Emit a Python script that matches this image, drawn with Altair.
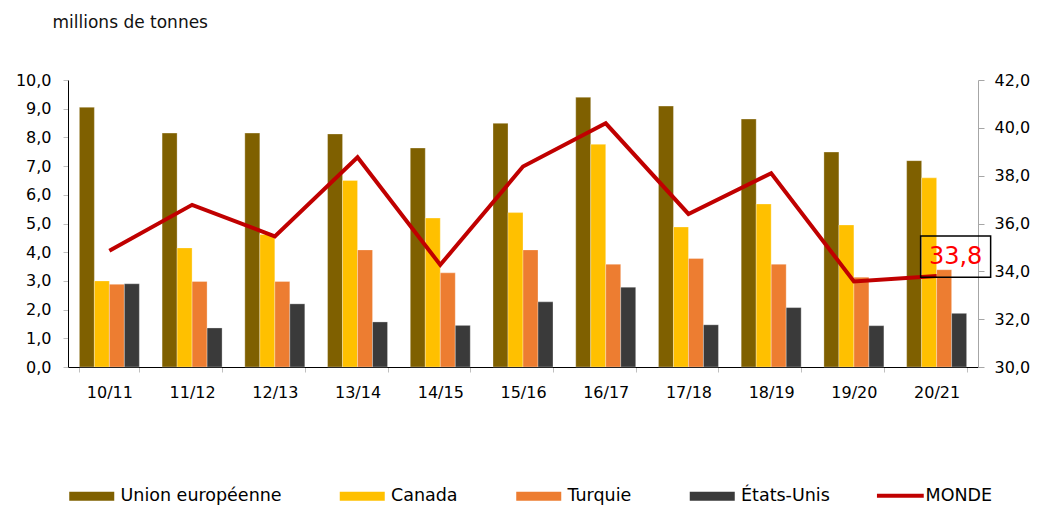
import altair as alt
import pandas as pd

cats = ["10/11", "11/12", "12/13", "13/14", "14/15", "15/16", "16/17", "17/18", "18/19", "19/20", "20/21"]
ue = [9.05, 8.15, 8.15, 8.12, 7.63, 8.49, 9.40, 9.09, 8.64, 7.49, 7.19]
canada = [3.00, 4.15, 4.62, 6.50, 5.19, 5.38, 7.76, 4.88, 5.68, 4.95, 6.59]
turquie = [2.88, 2.98, 2.98, 4.08, 3.28, 4.08, 3.58, 3.78, 3.58, 3.13, 3.39]
usa = [2.90, 1.36, 2.20, 1.57, 1.45, 2.27, 2.78, 1.47, 2.07, 1.44, 1.87]
monde = [34.86, 36.78, 35.46, 38.77, 34.27, 38.38, 40.19, 36.40, 38.10, 33.58, 33.80]

series = ["Union européenne", "Canada", "Turquie", "États-Unis"]
colors = ["#7F6000", "#FFC000", "#ED7D31", "#3A3A3A"]
line_name = "MONDE"
line_color = "#C00000"
last_label = "33,8"

FONT = "DejaVu Sans"

rows = []
for i, c in enumerate(cats):
    for s, vals in zip(series, [ue, canada, turquie, usa]):
        rows.append({"cat": c, "serie": s, "val": vals[i]})
bars_df = pd.DataFrame(rows)
line_df = pd.DataFrame({"cat": cats, "monde": monde, "serie": [line_name] * len(cats)})
last_df = pd.DataFrame({"cat": [cats[-1]], "monde": [monde[-1]], "label": [last_label]})

x_enc = alt.X(
    "cat:N", sort=cats, title=None,
    scale=alt.Scale(paddingInner=0.275, paddingOuter=0.1375),
    axis=alt.Axis(labelAngle=0, domainColor="black", tickColor="#bfbfbf", tickBand="extent",
                  tickSize=5, labelPadding=12, labelFontSize=16, labelFont=FONT, labelColor="black"),
)

bars = alt.Chart(bars_df).mark_bar(stroke="white", strokeWidth=0.6, strokeOpacity=0.5).encode(
    x=x_enc,
    xOffset=alt.XOffset("serie:N", sort=series),
    y=alt.Y("val:Q", scale=alt.Scale(domain=[0, 10], nice=False),
            axis=alt.Axis(values=list(range(11)),
                          labelExpr="replace(format(datum.value, '.1f'), '.', ',')",
                          grid=False, domainColor="black", tickColor="#bfbfbf", tickSize=5,
                          labelPadding=12, labelFontSize=16, labelFont=FONT, labelColor="black",
                          title="millions de tonnes", titleAngle=0, titleX=-16, titleY=-53,
                          titleAlign="left", titleBaseline="alphabetic", titleFontSize=17,
                          titleFontWeight="normal", titleFont=FONT, titleColor="#111111")),
    color=alt.Color("serie:N", sort=series, scale=alt.Scale(domain=series, range=colors),
                    legend=alt.Legend(orient="none", legendX=15, legendY=407, direction="horizontal",
                                      title=None, symbolType="M-5,-1H5V1H-5Z", symbolSize=81,
                                      symbolStrokeWidth=0, labelFontSize=17.5, labelFont=FONT,
                                      labelColor="black", labelOffset=20, labelLimit=400,
                                      columnPadding=57.5)),
)

y_right = alt.Y("monde:Q", scale=alt.Scale(domain=[30, 42], nice=False),
                axis=alt.Axis(orient="right", values=list(range(30, 43, 2)),
                              labelExpr="replace(format(datum.value, '.1f'), '.', ',')",
                              grid=False, domainColor="#a6a6a6", tickColor="#a6a6a6", tickSize=6,
                              labelPadding=10, labelFontSize=16, labelFont=FONT, labelColor="black",
                              title=None))

line = alt.Chart(line_df).mark_line(strokeWidth=4).encode(
    x=x_enc,
    y=y_right,
    stroke=alt.Stroke("serie:N", scale=alt.Scale(domain=[line_name], range=[line_color]),
                      legend=alt.Legend(orient="none", legendX=823.6, legendY=407, direction="horizontal",
                                        title=None, symbolType="M-5.2,0H5.2", symbolSize=81,
                                        symbolStrokeWidth=4, labelFontSize=17.5, labelFont=FONT,
                                        labelColor="black", labelOffset=16.5)),
)

box = alt.Chart(last_df).mark_point(shape="M-1,-0.586H1V0.586H-1Z", size=4900, filled=False,
                                    color="black", strokeWidth=1.5, opacity=1,
                                    xOffset=19, yOffset=-19.5).encode(x=x_enc, y=y_right)

txt = alt.Chart(last_df).mark_text(dx=19, dy=-19, fontSize=24, font=FONT, color="#FF0000",
                                   align="center", baseline="middle").encode(
    x=x_enc, y=y_right, text="label:N")

right_layer = alt.layer(line, box, txt)

chart = alt.layer(bars, right_layer).resolve_scale(y="independent", color="independent").properties(
    width=910, height=287, padding={"left": 7, "top": 5, "right": 0, "bottom": 0}
).configure_view(stroke=None)

chart.save("out.html", embed_options={"renderer": "svg", "actions": False})
